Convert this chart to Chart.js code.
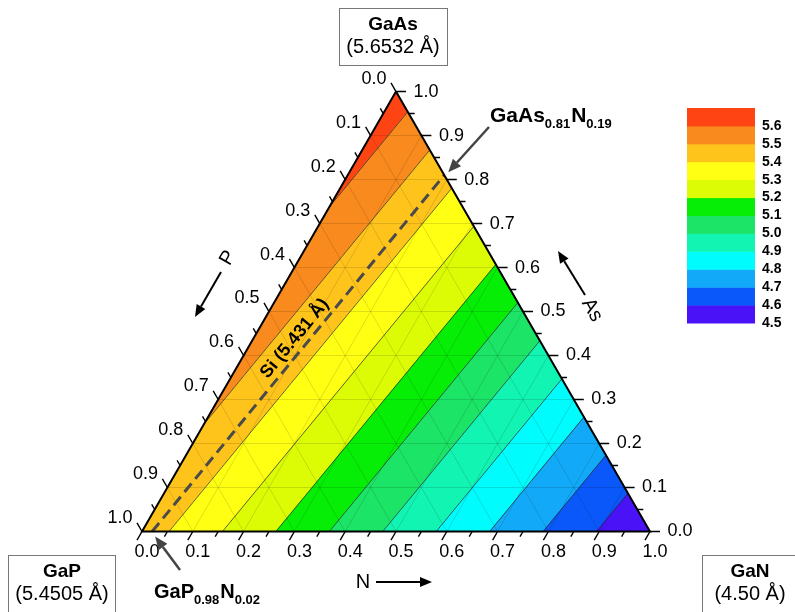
<!DOCTYPE html>
<html><head><meta charset="utf-8">
<script src="https://cdn.jsdelivr.net/npm/chart.js@4/dist/chart.umd.min.js"></script>
<style>html,body{margin:0;padding:0;background:#fff;}canvas{display:block;}</style>
</head><body>
<canvas id="c" width="795" height="612"></canvas>
<script>
// ---------------- data ----------------
const endMembers = ['GaAs', 'GaP', 'GaN'];               // apex, bottom-left, bottom-right
const latticeConstants = [5.6532, 5.4505, 4.50];         // Å, Vegard end points
const latticeLabels = ['(5.6532 Å)', '(5.4505 Å)', '(4.50 Å)'];
const contourLevels = [4.5, 4.6, 4.7, 4.8, 4.9, 5.0, 5.1, 5.2, 5.3, 5.4, 5.5, 5.6, 5.7];
const bandColors = ['#4a12f6', '#0a58fa', '#12aaf8', '#00fcfc', '#12f4b2', '#1ce466',
                    '#06ee06', '#dcfc06', '#ffff14', '#ffc41c', '#f88a1e', '#ff4414'];
const colorbarLabels = ['4.5', '4.6', '4.7', '4.8', '4.9', '5.0', '5.1', '5.2', '5.3', '5.4', '5.5', '5.6'];
const tickValues = [0, 0.1, 0.2, 0.3, 0.4, 0.5, 0.6, 0.7, 0.8, 0.9, 1.0];
const tickLabels = ['0.0', '0.1', '0.2', '0.3', '0.4', '0.5', '0.6', '0.7', '0.8', '0.9', '1.0'];
const minorTickValues = [0.05, 0.15, 0.25, 0.35, 0.45, 0.55, 0.65, 0.75, 0.85, 0.95];
const gridValues = [0.1, 0.2, 0.3, 0.4, 0.5, 0.6, 0.7, 0.8, 0.9];
const siLattice = '5.431';
const siMatchGaPN = [0, 0.98, 0.02];     // (As, P, N)  GaP0.98N0.02
const siMatchGaAsN = [0.81, 0, 0.19];    // (As, P, N)  GaAs0.81N0.19
const gaPNLabel = [['GaP', 0], ['0.98', 1], ['N', 0], ['0.02', 1]];
const gaAsNLabel = [['GaAs', 0], ['0.81', 1], ['N', 0], ['0.19', 1]];

// ---------------- layout (pixels) ----------------
const W = 795, H = 612;
const triLeft = 142, triSide = 508, triBase = 531.5;
const xMin = -triLeft / triSide, xMax = (W - triLeft) / triSide;
const yMin = -(H - triBase) / triSide, yMax = triBase / triSide;
const PX = 1 / triSide;   // data units per pixel
const SQ = Math.sqrt(3) / 2;
const FONT = '"Liberation Sans", Arial, sans-serif';

function toXY(c) {
  const s = c[0] + c[1] + c[2];
  const as = c[0] / s, n = c[2] / s;
  return { x: n + as / 2, y: as * SQ };
}
function lattice(c) { return c[0] * latticeConstants[0] + c[1] * latticeConstants[1] + c[2] * latticeConstants[2]; }
function lerp(a, b, t) { return [a[0] + (b[0] - a[0]) * t, a[1] + (b[1] - a[1]) * t, a[2] + (b[2] - a[2]) * t]; }
function clipPoly(poly, f) {
  const out = [];
  for (let i = 0; i < poly.length; i++) {
    const cur = poly[i], nxt = poly[(i + 1) % poly.length];
    const fc = f(cur), fn = f(nxt);
    if (fc >= 0) out.push(cur);
    if ((fc >= 0) !== (fn >= 0)) out.push(lerp(cur, nxt, fc / (fc - fn)));
  }
  return out;
}
const triangle = [[1, 0, 0], [0, 1, 0], [0, 0, 1]];
const GAP = { x: null, y: null };

const datasets = [];
// colour bands
for (let i = 0; i < bandColors.length; i++) {
  const lo = contourLevels[i], hi = contourLevels[i + 1];
  let poly = clipPoly(triangle, v => lattice(v) - lo);
  poly = clipPoly(poly, v => hi - lattice(v));
  if (poly.length < 3) continue;
  const pts = poly.map(toXY);
  pts.push(pts[0]);
  datasets.push({ data: pts, showLine: true, pointRadius: 0, fill: 'shape',
    backgroundColor: bandColors[i], borderColor: bandColors[i], borderWidth: 0.8, order: 50 });
}
// internal grid lines (constant As, P, N)
const gridPts = [];
for (let k = 0; k < 3; k++) {
  const j = (k + 1) % 3, m = (k + 2) % 3;
  for (const t of gridValues) {
    const a = [0, 0, 0], b = [0, 0, 0];
    a[k] = t; a[j] = 1 - t; b[k] = t; b[m] = 1 - t;
    gridPts.push(toXY(a), toXY(b), GAP);
  }
}
datasets.push({ data: gridPts, showLine: true, pointRadius: 0, borderColor: 'rgba(0,0,0,0.13)', borderWidth: 1, order: 40 });
// contour lines
const contourPts = [];
for (const L of contourLevels) {
  const seg = [];
  for (let e = 0; e < 3; e++) {
    const u = triangle[e], v = triangle[(e + 1) % 3];
    const fu = lattice(u) - L, fv = lattice(v) - L;
    if (fu * fv < 0) seg.push(toXY(lerp(u, v, fu / (fu - fv))));
  }
  if (seg.length === 2) contourPts.push(seg[0], seg[1], GAP);
}
datasets.push({ data: contourPts, showLine: true, pointRadius: 0, borderColor: '#222', borderWidth: 0.7, order: 30 });
// Si lattice-matched dashed line
datasets.push({ data: [toXY(siMatchGaPN), toXY(siMatchGaAsN)], showLine: true, pointRadius: 0,
  borderColor: '#4a4a4a', borderWidth: 3, borderDash: [11, 6], order: 20 });
// triangle edges
const edgePts = triangle.map(toXY); edgePts.push(edgePts[0]);
datasets.push({ data: edgePts, showLine: true, pointRadius: 0, borderColor: '#000', borderWidth: 2, order: 10 });
// ticks
const tickPts = [];
function addTicks(values, len) {
  for (const v of values) {
    const nb = toXY([0, 1 - v, v]);            // N axis (bottom)
    tickPts.push(nb, { x: nb.x - 0.5 * len, y: nb.y - SQ * len }, GAP);
    const pl = toXY([1 - v, v, 0]);            // P axis (left)
    tickPts.push(pl, { x: pl.x - 0.5 * len, y: pl.y + SQ * len }, GAP);
    const ar = toXY([v, 0, 1 - v]);            // As axis (right)
    tickPts.push(ar, { x: ar.x + len, y: ar.y }, GAP);
  }
}
addTicks(tickValues, 10 * PX);
addTicks(minorTickValues, 6 * PX);
datasets.push({ data: tickPts, showLine: true, pointRadius: 0, borderColor: '#000', borderWidth: 1.4, order: 5 });

// ---------------- text / annotations ----------------
function arrow(ctx, x1, y1, x2, y2, color, lw, hl, hw) {
  const ang = Math.atan2(y2 - y1, x2 - x1);
  const bx = x2 - hl * Math.cos(ang), by = y2 - hl * Math.sin(ang);
  ctx.save();
  ctx.strokeStyle = color; ctx.fillStyle = color; ctx.lineWidth = lw;
  ctx.beginPath(); ctx.moveTo(x1, y1); ctx.lineTo(bx, by); ctx.stroke();
  ctx.beginPath(); ctx.moveTo(x2, y2);
  ctx.lineTo(bx + hw * Math.sin(ang), by - hw * Math.cos(ang));
  ctx.lineTo(bx - hw * Math.sin(ang), by + hw * Math.cos(ang));
  ctx.closePath(); ctx.fill();
  ctx.restore();
}
function chem(ctx, parts, x, base, big, small) {
  ctx.textAlign = 'left'; ctx.textBaseline = 'alphabetic';
  for (const [s, sub] of parts) {
    ctx.font = 'bold ' + (sub ? small : big) + 'px ' + FONT;
    ctx.fillText(s, x, sub ? base + 6 : base);
    x += ctx.measureText(s).width + (sub ? 1 : 0);
  }
}
function box(ctx, cx, x, y, w, h, name, val) {
  ctx.save();
  ctx.strokeStyle = '#777'; ctx.lineWidth = 1;
  ctx.strokeRect(x + 0.5, y + 0.5, w, h);
  ctx.fillStyle = '#000'; ctx.textAlign = 'center'; ctx.textBaseline = 'middle';
  ctx.font = 'bold 19px ' + FONT; ctx.fillText(name, cx, y + 17);
  ctx.font = '20px ' + FONT; ctx.fillText(val, cx, y + 39);
  ctx.restore();
}
const textPlugin = {
  id: 'ternaryText',
  afterDatasetsDraw(chart) {
    const ctx = chart.ctx, sx = chart.scales.x, sy = chart.scales.y;
    const P = p => ({ x: sx.getPixelForValue(p.x), y: sy.getPixelForValue(p.y) });
    ctx.save();
    ctx.fillStyle = '#000';
    ctx.font = '18px ' + FONT; ctx.textAlign = 'center'; ctx.textBaseline = 'middle';
    tickValues.forEach((v, i) => {
      const b = P(toXY([0, 1 - v, v]));
      ctx.fillText(tickLabels[i], b.x + 5, b.y + 21);
      const l = P(toXY([1 - v, v, 0]));
      ctx.fillText(tickLabels[i], l.x - 22, l.y - 13);
      const r = P(toXY([v, 0, 1 - v]));
      ctx.fillText(tickLabels[i], r.x + 30, r.y);
    });
    // axis titles
    ctx.font = '20px ' + FONT;
    ctx.save(); ctx.translate(228, 258); ctx.rotate(-Math.PI / 3); ctx.fillText('P', 0, 0); ctx.restore();
    arrow(ctx, 221, 272, 195, 317, '#000', 2, 12, 5);
    ctx.save(); ctx.translate(592, 310); ctx.rotate(Math.PI / 3); ctx.fillText('As', 0, 0); ctx.restore();
    arrow(ctx, 585, 295, 558, 251, '#000', 2, 12, 5);
    ctx.fillText('N', 363, 582);
    arrow(ctx, 376, 582, 432, 582, '#000', 2, 12, 5);
    // corner boxes
    box(ctx, 393, 339, 8, 108, 57, endMembers[0], latticeLabels[0]);
    box(ctx, 62, 8, 555, 107, 62, endMembers[1], latticeLabels[1]);
    box(ctx, 750, 702, 555, 100, 62, endMembers[2], latticeLabels[2]);
    // Si label along dashed line
    const a = P(toXY(siMatchGaPN)), b = P(toXY(siMatchGaAsN));
    const dx = b.x - a.x, dy = b.y - a.y, L = Math.hypot(dx, dy);
    const ux = dx / L, uy = dy / L;
    const t = 0.52;
    const cx = a.x + dx * t + 12 * uy, cy = a.y + dy * t - 12 * ux;
    ctx.save(); ctx.translate(cx, cy); ctx.rotate(Math.atan2(dy, dx));
    ctx.font = 'bold 18px ' + FONT; ctx.textAlign = 'center'; ctx.textBaseline = 'middle';
    ctx.fillText('Si (' + siLattice + ' Å)', 0, 0); ctx.restore();
    // compound labels + arrows
    ctx.fillStyle = '#000';
    chem(ctx, gaAsNLabel, 490, 122, 21, 13);
    arrow(ctx, 489, 127, b.x + 4, b.y - 3, '#444', 2.5, 13, 5.5);
    chem(ctx, gaPNLabel, 154, 598, 20, 13);
    arrow(ctx, 180, 570, a.x + 3, a.y + 5, '#444', 2.5, 13, 5.5);
    // colour bar
    const cbL = 687, cbR = 755, cbT = 108, cbB = 323;
    const bh = (cbB - cbT) / bandColors.length;
    bandColors.forEach((c, i) => {
      ctx.fillStyle = c;
      ctx.fillRect(cbL, cbB - (i + 1) * bh, cbR - cbL, bh + 0.5);
    });
    ctx.fillStyle = '#000'; ctx.font = 'bold 14px ' + FONT; ctx.textAlign = 'left'; ctx.textBaseline = 'middle';
    colorbarLabels.forEach((s, i) => ctx.fillText(s, 762, cbB - i * bh));
    ctx.restore();
  }
};

new Chart(document.getElementById('c').getContext('2d'), {
  type: 'scatter',
  data: { datasets },
  options: {
    responsive: false, animation: false, events: [],
    layout: { padding: 0 },
    scales: {
      x: { type: 'linear', min: xMin, max: xMax, display: false },
      y: { type: 'linear', min: yMin, max: yMax, display: false }
    },
    elements: { line: { tension: 0 }, point: { radius: 0 } },
    plugins: { legend: { display: false }, tooltip: { enabled: false } }
  },
  plugins: [textPlugin]
});
</script>
</body></html>
